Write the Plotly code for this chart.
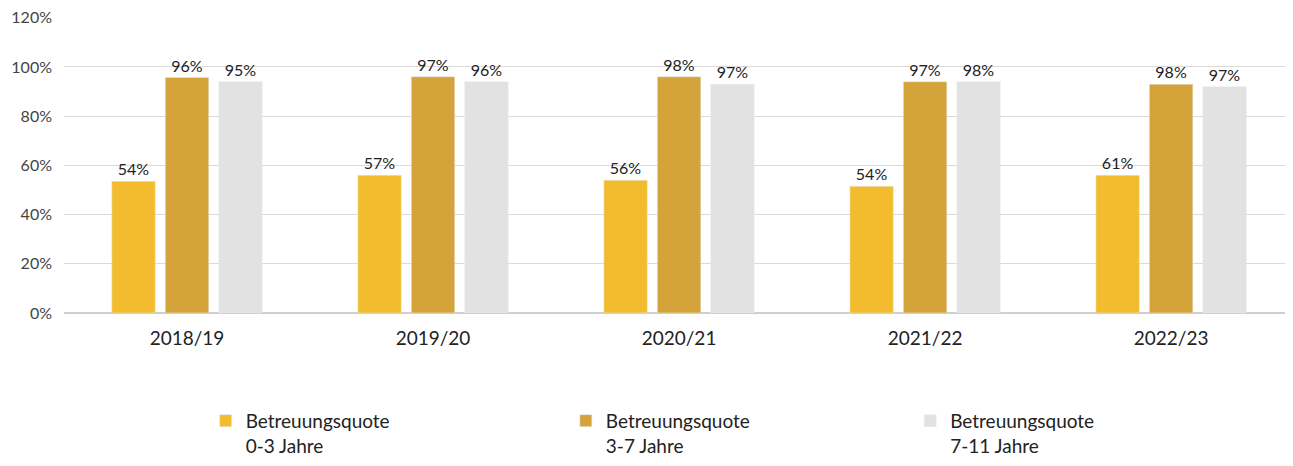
import plotly.graph_objects as go

years = ["2018/19", "2019/20", "2020/21", "2021/22", "2022/23"]

# Balkenhöhen (Prozent)
quote_0_3 = [53.5, 56, 54, 51.5, 56]
quote_3_7 = [95.7, 96, 96, 94, 93]
quote_7_11 = [94, 94, 93, 94, 92]

# gedruckte Datenbeschriftungen
labels_0_3 = ["54%", "57%", "56%", "54%", "61%"]
labels_3_7 = ["96%", "97%", "98%", "97%", "98%"]
labels_7_11 = ["95%", "96%", "97%", "98%", "97%"]

y_ticks = [0, 20, 40, 60, 80, 100, 120]
y_ticktext = ["0%", "20%", "40%", "60%", "80%", "100%", "120%"]

series = [
    ("Betreuungsquote<br>0-3 Jahre", quote_0_3, labels_0_3, "#F2BC2E"),
    ("Betreuungsquote<br>3-7 Jahre", quote_3_7, labels_3_7, "#D4A43A"),
    ("Betreuungsquote<br>7-11 Jahre", quote_7_11, labels_7_11, "#E2E2E2"),
]

FONT = "Lato, Open Sans, sans-serif"
legend_names = ["legend", "legend2", "legend3"]
legend_x = [0.116, 0.411, 0.693]

fig = go.Figure()
for (name, vals, labs, color), lg in zip(series, legend_names):
    fig.add_trace(go.Bar(
        x=years, y=vals, name=name, marker_color=color,
        text=labs, textposition="outside", cliponaxis=False,
        textfont=dict(size=16, color="#222222", family=FONT),
        legend=lg, showlegend=True,
    ))

legend_style = dict(
    y=-0.30, yanchor="top", xanchor="left", valign="top",
    font=dict(size=19, color="#222222", family=FONT),
    itemwidth=30, bgcolor="rgba(0,0,0,0)",
)

fig.update_layout(
    width=1277, height=450,
    margin=dict(l=56, r=0, t=9, b=145, autoexpand=False),
    paper_bgcolor="white", plot_bgcolor="white",
    barmode="group", bargap=0.348, bargroupgap=0.187,
    showlegend=True,
    font=dict(family=FONT, color="#333333"),
    legend=dict(x=legend_x[0], **legend_style),
    legend2=dict(x=legend_x[1], **legend_style),
    legend3=dict(x=legend_x[2], **legend_style),
)
fig.update_xaxes(
    range=[-0.5, 4.463],
    showgrid=False, showline=False, ticks="", automargin=False,
    tickfont=dict(size=19, color="#222222"),
    ticklabelstandoff=12,
)
fig.update_yaxes(
    range=[0, 120.3], tickvals=y_ticks, ticktext=y_ticktext,
    automargin=False, ticklabeloverflow="allow",
    showgrid=True, gridcolor="#DADADA", gridwidth=1,
    zeroline=True, zerolinecolor="#CFCFCF",
    tickfont=dict(size=16, color="#444444"),
    ticklabelstandoff=11,
)

fig.write_html("out.html")
